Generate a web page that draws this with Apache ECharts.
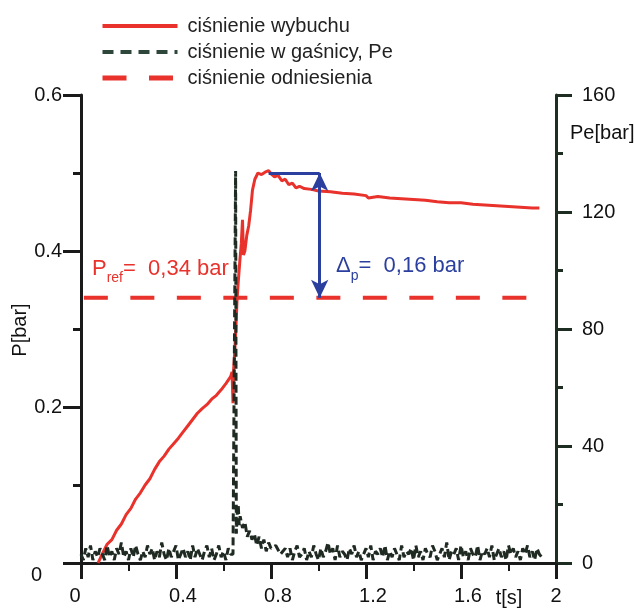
<!DOCTYPE html>
<html><head><meta charset="utf-8">
<script src="https://cdn.jsdelivr.net/npm/echarts@6/dist/echarts.min.js"></script>
<style>html,body{margin:0;padding:0;background:#fff}#c{width:634px;height:608px}</style>
</head><body><div id="c"></div>
<script>
// ---- data ----
const legendNames = ['ciśnienie wybuchu', 'ciśnienie w gaśnicy, Pe', 'ciśnienie odniesienia'];
const xTicks = [0, 0.4, 0.8, 1.2, 1.6, 2];
const tRed = [0.072,0.09,0.11,0.13,0.15,0.17,0.19,0.21,0.23,0.25,0.27,0.29,0.31,0.33,0.35,0.37,0.39,0.41,0.43,0.45,0.47,0.49,0.51,0.53,0.55,0.57,0.59,0.61,0.63,0.636,0.640,0.643,0.648,0.652,0.657,0.662,0.669,0.675,0.680,0.684,0.690,0.698,0.706,0.714,0.722,0.732,0.745,0.760,0.775,0.790,0.800,0.815,0.830,0.845,0.860,0.875,0.890,0.905,0.92,0.94,0.97,1.00,1.05,1.10,1.15,1.20,1.21,1.25,1.30,1.35,1.40,1.45,1.50,1.55,1.60,1.65,1.70,1.75,1.80,1.85,1.90,1.93];
const pRed = [0.000,0.012,0.024,0.030,0.042,0.050,0.062,0.070,0.082,0.090,0.100,0.108,0.120,0.130,0.137,0.146,0.153,0.160,0.168,0.176,0.184,0.192,0.198,0.203,0.210,0.215,0.222,0.230,0.239,0.245,0.205,0.250,0.275,0.300,0.337,0.360,0.388,0.410,0.440,0.395,0.400,0.420,0.432,0.452,0.478,0.492,0.500,0.498,0.501,0.503,0.499,0.495,0.497,0.490,0.492,0.485,0.487,0.481,0.483,0.480,0.479,0.477,0.476,0.474,0.473,0.471,0.468,0.470,0.468,0.467,0.466,0.465,0.463,0.462,0.462,0.460,0.459,0.458,0.457,0.456,0.455,0.455];
const tPe = [0,0.01,0.02,0.03,0.04,0.05,0.06,0.07,0.08,0.09,0.10,0.11,0.12,0.13,0.14,0.15,0.16,0.17,0.18,0.19,0.20,0.21,0.22,0.23,0.24,0.25,0.26,0.27,0.28,0.29,0.30,0.31,0.32,0.33,0.34,0.35,0.36,0.37,0.38,0.39,0.40,0.41,0.42,0.43,0.44,0.45,0.46,0.47,0.48,0.49,0.50,0.51,0.52,0.53,0.54,0.55,0.56,0.57,0.58,0.59,0.60,0.61,0.62,0.63,
  0.640,0.651,0.654,0.658,0.662,0.666,0.670,0.680,0.690,0.700,0.710,0.720,0.730,0.740,0.750,0.760,0.770,0.780,0.790,0.800,0.820,0.840,0.860,
  0.87,0.88,0.89,0.90,0.91,0.92,0.93,0.94,0.95,0.96,0.97,0.98,0.99,1.00,1.01,1.02,1.03,1.04,1.05,1.06,1.07,1.08,1.09,1.10,1.11,1.12,1.13,1.14,1.15,1.16,1.17,1.18,1.19,1.20,1.21,1.22,1.23,1.24,1.25,1.26,1.27,1.28,1.29,1.30,1.31,1.32,1.33,1.34,1.35,1.36,1.37,1.38,1.39,1.40,1.41,1.42,1.43,1.44,1.45,1.46,1.47,1.48,1.49,1.50,1.51,1.52,1.53,1.54,1.55,1.56,1.57,1.58,1.59,1.60,1.61,1.62,1.63,1.64,1.65,1.66,1.67,1.68,1.69,1.70,1.71,1.72,1.73,1.74,1.75,1.76,1.77,1.78,1.79,1.80,1.81,1.82,1.83,1.84,1.85,1.86,1.87,1.88,1.89,1.90,1.91,1.92,1.93,1.94];
const pe = [3,1,5,2,6,1,4,2,5,3,1,6,2,4,1,5,3,7,2,4,1,5,2,6,3,1,4,2,6,3,5,1,4,2,7,3,1,5,2,4,6,1,3,5,2,4,1,6,2,5,3,1,4,6,2,5,1,3,6,2,4,1,5,3,
  3,134,10,17,20,13,16,12,14,9,11,8,10,6,9,5,8,4,7,5,6,3,5,
  2,5,1,4,6,2,3,5,1,4,2,6,3,1,5,2,4,7,3,5,1,6,2,4,3,1,5,3,6,2,4,1,3,5,2,6,1,4,3,5,2,6,1,4,2,5,3,1,6,2,4,3,5,1,6,2,4,1,5,3,2,6,4,1,3,5,2,7,1,4,3,5,1,6,2,4,1,5,3,2,6,1,4,3,5,2,6,1,3,5,2,4,1,6,3,5,2,4,1,5,3,6,2,4,1,5,3,2];
const tRef = [0.012, 1.95];
const pRef = 0.34;
const pPeak = 0.50;
const tPeakArrow = [0.79, 1.005];

// ---- chart ----
const FONT = '"Liberation Sans", Arial, sans-serif';
const RED = '#e8322b', BLUE = '#2b3f9e', BLK = '#1e2a22';
const chart = echarts.init(document.getElementById('c'));
chart.setOption({
  animation: false,
  backgroundColor: '#fff',
  textStyle: { fontFamily: FONT },
  grid: { left: 81, right: 78, top: 95, bottom: 45 },
  legend: {
    orient: 'vertical', left: 95, top: 11, itemWidth: 75, itemHeight: 20, itemGap: 6,
    itemStyle: { opacity: 0 },
    textStyle: { fontSize: 20, color: '#222', fontFamily: FONT, padding: [0, 0, 0, 5] },
    data: [
      { name: legendNames[0], lineStyle: { type: 'solid', width: 4, color: RED } },
      { name: legendNames[1], lineStyle: { type: [11, 7], width: 4, color: '#2f463a' } },
      { name: legendNames[2], lineStyle: { type: [24, 22.5], width: 5, color: RED } }
    ]
  },
  xAxis: {
    type: 'value', min: 0, max: 2, interval: 0.4,
    axisLine: { lineStyle: { color: '#1a1a1a', width: 3 } },
    axisTick: { length: 16, lineStyle: { width: 3, color: '#1a1a1a' } },
    minorTick: { show: true, splitNumber: 2, length: 8, lineStyle: { width: 2, color: '#1a1a1a' } },
    splitLine: { show: false },
    axisLabel: {
      fontSize: 20, color: '#111', margin: 23,
      formatter: v => v === 0 ? '{z|0}' : (v === 2 ? '2' : '{m|' + v + '}'),
      rich: { z: { fontSize: 20, padding: [0, 12, 0, 0] }, m: { fontSize: 20, padding: [0, 0, 0, 14] } }
    }
  },
  yAxis: [{
    type: 'value', min: 0, max: 0.6, interval: 0.2,
    axisLine: { show: true, lineStyle: { color: '#1a1a1a', width: 3 } },
    axisTick: { show: true, length: 18, lineStyle: { width: 3, color: '#1a1a1a' } },
    minorTick: { show: true, splitNumber: 2, length: 8, lineStyle: { width: 3, color: '#1a1a1a' } },
    splitLine: { show: false },
    axisLabel: {
      fontSize: 20, color: '#111', margin: 19,
      formatter: v => v === 0 ? '{z|0}' : String(v),
      rich: { z: { fontSize: 20, padding: [24, 20, 0, 0] } }
    }
  }, {
    type: 'value', min: 0, max: 160, interval: 40, position: 'right',
    axisLine: { show: true, lineStyle: { color: '#1d2d22', width: 3 } },
    axisTick: { show: true, length: 16, lineStyle: { width: 3, color: '#1d2d22' } },
    minorTick: { show: true, splitNumber: 2, length: 7, lineStyle: { width: 3, color: '#1d2d22' } },
    splitLine: { show: false },
    axisLabel: { fontSize: 20, color: '#111', margin: 26 }
  }],
  series: [{
    name: legendNames[0], type: 'line', yAxisIndex: 0, symbol: 'none', z: 3,
    data: tRed.map((t, i) => [t, pRed[i]]),
    lineStyle: { color: RED, width: 3 }, itemStyle: { color: RED }
  }, {
    name: legendNames[1], type: 'line', yAxisIndex: 1, symbol: 'none', z: 4,
    data: tPe.map((t, i) => [t, pe[i]]),
    lineStyle: { color: BLK, width: 3, type: [8, 4] }, itemStyle: { color: BLK }
  }, {
    name: legendNames[2], type: 'line', yAxisIndex: 0, symbol: 'none', z: 2,
    data: tRef.map(t => [t, pRef]),
    lineStyle: { color: RED, width: 4, type: [24, 22.5] }, itemStyle: { color: RED },
    markLine: {
      silent: true, symbol: 'none', label: { show: false },
      lineStyle: { color: BLUE, width: 3, type: 'solid' },
      data: [
        [{ coord: [tPeakArrow[0], pPeak] }, { coord: [tPeakArrow[1], pPeak] }],
        [{ coord: [tPeakArrow[1], pPeak], symbol: 'arrow', symbolSize: [13, 18] },
         { coord: [tPeakArrow[1], pRef], symbol: 'arrow', symbolSize: [13, 18] }]
      ]
    }
  }],
  graphic: [
    { type: 'text', x: 20, y: 330, rotation: Math.PI / 2,
      style: { text: 'P[bar]', font: '20px ' + FONT, fill: '#111', textAlign: 'center', textVerticalAlign: 'middle' } },
    { type: 'text', x: 570, y: 133,
      style: { text: 'Pe[bar]', font: '20px ' + FONT, fill: '#111', textAlign: 'left', textVerticalAlign: 'middle' } },
    { type: 'text', x: 509, y: 598,
      style: { text: 't[s]', font: '20px ' + FONT, fill: '#111', textAlign: 'center', textVerticalAlign: 'middle' } },
    { type: 'text', x: 92, y: 258,
      style: { text: '{a|P}{b|ref}{a|=  0,34 bar}', fill: RED, textAlign: 'left', textVerticalAlign: 'top',
        rich: { a: { fontSize: 22, fill: RED, fontFamily: FONT, verticalAlign: 'bottom' },
                b: { fontSize: 14, fill: RED, fontFamily: FONT, verticalAlign: 'bottom', padding: [0, 0, -5, 0] } } } },
    { type: 'text', x: 336, y: 255,
      style: { text: '{a|Δ}{b|p}{a|=  0,16 bar}', fill: BLUE, textAlign: 'left', textVerticalAlign: 'top',
        rich: { a: { fontSize: 22, fill: BLUE, fontFamily: FONT, verticalAlign: 'bottom' },
                b: { fontSize: 14, fill: BLUE, fontFamily: FONT, verticalAlign: 'bottom', padding: [0, 0, -6, 0] } } } }
  ]
});
</script></body></html>
